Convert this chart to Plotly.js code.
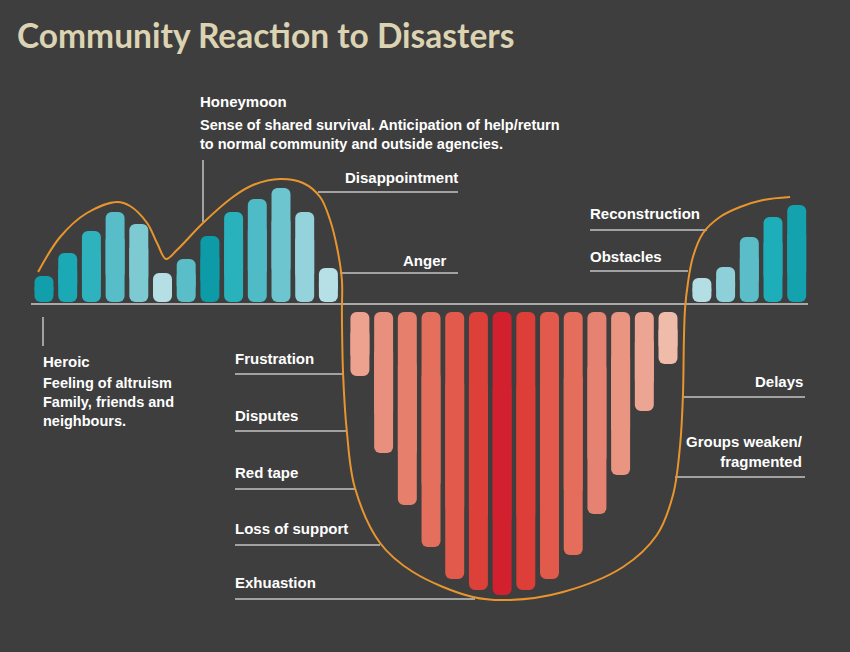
<!DOCTYPE html>
<html>
<head>
<meta charset="utf-8">
<script src="https://cdn.plot.ly/plotly-3.0.1.min.js"></script>
<style>
  html, body { margin: 0; padding: 0; background: #3e3e3e; }
  #chart { width: 850px; height: 652px; }
</style>
</head>
<body>
<div id="chart"></div>
<script>
// ---- Data ----
// Phase 1: Heroic + Honeymoon (above the line)
const heroicHoneymoon = [28, 51, 73, 92, 80, 31, 45, 68, 92, 105, 116, 92, 36];
const heroicColors = ['#129fac', '#1aa9b5', '#2eb2bd', '#57bdc8', '#7ecad3', '#b5dfe4', '#5abec8',
                      '#0c9ba7', '#29b1bc', '#4fbbc6', '#6cc5cf', '#94d3db', '#b7e0e6'];
// Phase 2: Disillusionment (below the line)
const disillusionment = [-72, -149, -201, -243, -275, -286, -291, -286, -275, -251, -210, -171, -107, -60];
const disColors = ['#eda290', '#e88f7e', '#e67f6c', '#e46f5d', '#e15a4b', '#dc4039', '#d3202f',
                   '#dd3e38', '#e15a4b', '#e46d5c', '#e68271', '#e99582', '#eda593', '#f0bcaa'];
// Phase 3: Reconstruction (above the line)
const reconstruction = [26, 37, 67, 87, 99];
const reconColors = ['#b3dee4', '#8ed0d9', '#5abdc8', '#1daeba', '#13a2ae'];

// Envelope curve (x in bar-slot units, y in value units)
const curveX = [-0.25, 0.68, 1.81, 3.08, 3.63, 4.35, 4.77, 5.15, 5.61, 6.71, 7.97, 8.82, 9.96, 10.93,
                11.65, 12.07, 12.36, 12.57, 12.57, 12.62, 12.78, 13.12, 14.18, 15.57, 18.10, 19.66,
                21.90, 24.43, 25.86, 26.54, 26.84, 26.96, 27.00, 27.05, 27.17, 27.38, 27.81, 28.52,
                29.37, 30.34, 31.48];
const curveY = [32, 67, 91, 102, 98, 81, 61, 45, 54, 81, 107, 119, 125, 121,
                107, 84, 57, 24, -10, -70, -128, -184, -239, -268, -293, -296,
                -288, -263, -231, -191, -141, -91, -36, -4, 21, 47, 71, 87,
                97, 104, 107];

// ---- Layout helpers ----
const W = 850, H = 652;
const M = {l: 31, r: 42, t: 70, b: 12};
const PW = W - M.l - M.r, PH = H - M.t - M.b;
const SLOT = 23.7;               // px per bar slot
const X0PX = 44;                 // px of first bar centre
const BASE_PX = 304;             // px of baseline
const xRange = [(M.l - X0PX) / SLOT, (W - M.r - X0PX) / SLOT];
const yRange = [BASE_PX - (H - M.b), BASE_PX - M.t];
const px = v => (v - M.l) / PW;          // pixel -> paper x
const py = v => (H - M.b - v) / PH;      // pixel -> paper y

const RED_START = 13.33, RIGHT_START = 27.76;
const UP_GAP = 2, DOWN_GAP = -8;

const xs = [], starts = [], tips = [], cols = [];
heroicHoneymoon.forEach((v, i) => { xs.push(i); starts.push(UP_GAP); tips.push(v); cols.push(heroicColors[i]); });
disillusionment.forEach((v, i) => { xs.push(RED_START + i); starts.push(DOWN_GAP); tips.push(v); cols.push(disColors[i]); });
reconstruction.forEach((v, i) => { xs.push(RIGHT_START + i); starts.push(UP_GAP); tips.push(v); cols.push(reconColors[i]); });

// two overlapping pieces so both ends of every bar are rounded
const tipBase = starts.map((s, i) => s + (tips[i] - s) * 0.25);
const tipLen = tips.map((t, i) => t - tipBase[i]);
const rootBase = starts.map((s, i) => s + (tips[i] - s) * 0.75);
const rootLen = starts.map((s, i) => s - rootBase[i]);

const barCommon = {
  type: 'bar', x: xs, width: 0.8,
  marker: {color: cols, line: {width: 0}, cornerradius: 6},
  hoverinfo: 'skip', showlegend: false
};
const traces = [
  Object.assign({}, barCommon, {base: tipBase, y: tipLen}),
  Object.assign({}, barCommon, {base: rootBase, y: rootLen}),
  {
    type: 'scatter', mode: 'lines', x: curveX, y: curveY,
    line: {color: '#e8952e', width: 2, shape: 'spline', smoothing: 1},
    hoverinfo: 'skip', showlegend: false
  }
];

// ---- Labels ----
const WHITE = '#ffffff';
const LBL = {family: '"Liberation Sans", Arial, sans-serif', size: 15, color: WHITE, weight: 'bold'};
const DESC = {family: '"Liberation Sans", Arial, sans-serif', size: 14.5, color: WHITE, weight: 'bold'};
function ann(text, x, y, font, xanchor, align) {
  return {text: text, x: px(x), y: py(y - 1.5), xref: 'paper', yref: 'paper',
          xanchor: xanchor || 'left', yanchor: 'middle', align: align || 'left',
          showarrow: false, font: font, borderpad: 0};
}
const annotations = [
  {text: 'Community Reaction to Disasters', x: px(16), y: py(35), xref: 'paper', yref: 'paper',
   xanchor: 'left', yanchor: 'middle', showarrow: false, borderpad: 0,
   font: {family: 'Lato, "Open Sans", sans-serif', size: 33.5, color: '#dcd3b2', weight: 'bold'}},
  ann('<b>Honeymoon</b>', 199, 103, LBL),
  ann('<b>Sense of shared survival. Anticipation of help/return<br>to normal community and outside agencies.</b>', 199, 136, DESC),
  ann('<b>Disappointment</b>', 344, 179, LBL),
  ann('<b>Anger</b>', 402, 262, LBL),
  ann('<b>Reconstruction</b>', 589, 215, LBL),
  ann('<b>Obstacles</b>', 589, 258, LBL),
  ann('<b>Heroic</b>', 42, 363, LBL),
  ann('<b>Feeling of altruism<br>Family, friends and<br>neighbours.</b>', 42, 404, DESC),
  ann('<b>Frustration</b>', 234, 360, LBL),
  ann('<b>Disputes</b>', 234, 417, LBL),
  ann('<b>Red tape</b>', 234, 474, LBL),
  ann('<b>Loss of support</b>', 234, 530, LBL),
  ann('<b>Exhuastion</b>', 234, 584, LBL),
  ann('<b>Delays</b>', 804, 383, LBL, 'right', 'right'),
  ann('<b>Groups weaken/<br>fragmented</b>', 804, 453, LBL, 'right', 'right')
];

const LINE = {color: '#c4c4c4', width: 1.5};
function seg(x0, y0, x1, y1) {
  return {type: 'line', xref: 'paper', yref: 'paper', x0: px(x0), y0: py(y0), x1: px(x1), y1: py(y1), line: LINE, layer: 'below'};
}
const shapes = [
  seg(318, 192, 458, 192),
  seg(340, 273, 458, 273),
  seg(203, 160, 203, 222),
  seg(43, 317, 43, 346),
  seg(235, 374, 343, 374),
  seg(235, 431, 347, 431),
  seg(235, 489, 355, 489),
  seg(235, 545, 380, 545),
  seg(235, 599, 475, 599),
  seg(590, 230, 707, 230),
  seg(590, 271, 688, 271),
  seg(682, 397, 805, 397),
  seg(675, 477, 805, 477)
];

const layout = {
  width: W, height: H,
  margin: M,
  paper_bgcolor: '#3e3e3e', plot_bgcolor: '#3e3e3e',
  barmode: 'overlay',
  showlegend: false,
  hovermode: false,
  xaxis: {range: xRange, showgrid: false, zeroline: false, showticklabels: false, ticks: '', showline: false, fixedrange: true},
  yaxis: {range: yRange, showgrid: false, zeroline: true, zerolinecolor: '#a9a9a9', zerolinewidth: 2,
          showticklabels: false, ticks: '', showline: false, fixedrange: true},
  annotations: annotations,
  shapes: shapes
};

Plotly.newPlot('chart', traces, layout, {displayModeBar: false, staticPlot: true});
</script>
</body>
</html>
